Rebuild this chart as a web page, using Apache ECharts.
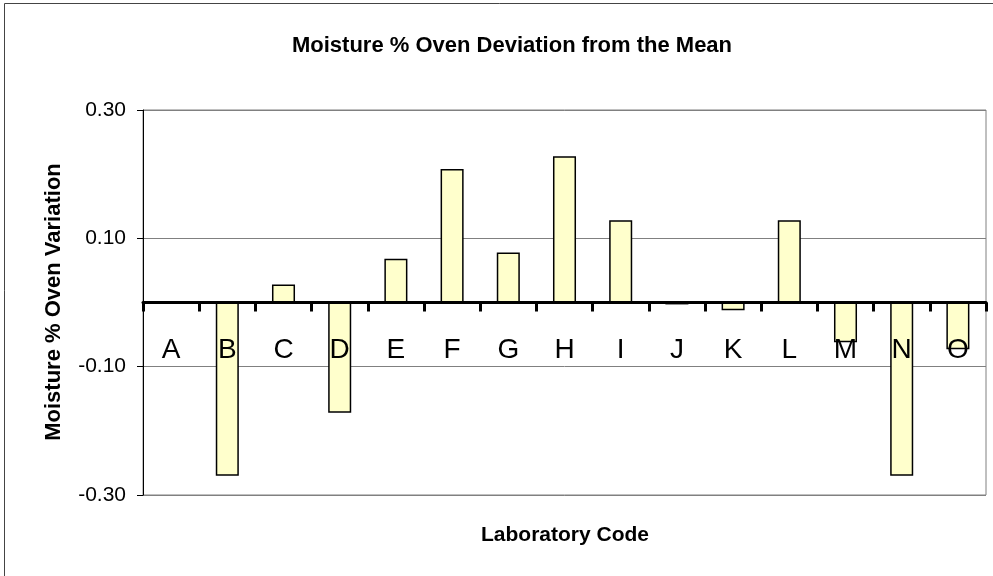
<!DOCTYPE html>
<html>
<head>
<meta charset="utf-8">
<script src="https://cdn.jsdelivr.net/npm/echarts@6/dist/echarts.min.js"></script>
<style>
html,body{margin:0;padding:0;background:#fff;}
#chart{width:993px;height:576px;}
</style>
</head>
<body>
<div id="chart"></div>
<script>
const categories = ['A','B','C','D','E','F','G','H','I','J','K','L','M','N','O'];
const deviations = [0, -0.27, 0.028, -0.172, 0.068, 0.208, 0.078, 0.228, 0.128, -0.003, -0.012, 0.128, -0.062, -0.27, -0.073];
const yTicks = [-0.3, -0.1, 0.1, 0.3];
const chartTitle = 'Moisture % Oven Deviation from the Mean';
const xTitle = 'Laboratory Code';
const yTitle = 'Moisture % Oven Variation';

const FONT = "'Liberation Sans', Arial, sans-serif";
const GRID = {left: 143, right: 7, top: 110, bottom: 81};
const plotH = 576 - GRID.top - GRID.bottom;
const zeroOffset = -plotH * 0.5; // category axis drawn along y = 0 (mid of symmetric range)

const chart = echarts.init(document.getElementById('chart'), null, {renderer: 'canvas'});
chart.setOption({
  animation: false,
  backgroundColor: '#fff',
  grid: Object.assign({show: true, borderColor: '#808080', borderWidth: 1, backgroundColor: 'transparent'}, GRID),
  graphic: [
    {type: 'rect', z: -1, shape: {x: 4.5, y: 3.5, width: 1200, height: 1000}, style: {fill: 'none', stroke: '#444', lineWidth: 1}},
    {type: 'text', x: 512, y: 46, style: {text: chartTitle, font: 'bold 22px ' + FONT, fill: '#000', align: 'center', verticalAlign: 'middle'}},
    {type: 'text', x: 565, y: 535, style: {text: xTitle, font: 'bold 21px ' + FONT, fill: '#000', align: 'center', verticalAlign: 'middle'}},
    {type: 'text', x: 54, y: 302, rotation: Math.PI / 2, style: {text: yTitle, font: 'bold 22px ' + FONT, fill: '#000', align: 'center', verticalAlign: 'middle'}}
  ],
  xAxis: {
    type: 'category',
    data: categories,
    z: 10,
    offset: zeroOffset,
    axisLine: {show: true, onZero: false, lineStyle: {color: '#000', width: 3}},
    axisTick: {show: true, length: 9, lineStyle: {color: '#000', width: 3}},
    axisLabel: {color: '#000', fontSize: 28, fontFamily: FONT, margin: 34, interval: 0},
    splitLine: {show: false}
  },
  yAxis: {
    type: 'value',
    min: -0.3, max: 0.3,
    axisLine: {show: true, lineStyle: {color: '#000', width: 1}},
    axisTick: {show: true, length: 6, customValues: yTicks, lineStyle: {color: '#000', width: 1}},
    axisLabel: {customValues: yTicks, color: '#000', fontSize: 21, fontFamily: FONT, margin: 17,
      formatter: v => Number(v).toFixed(2)},
    splitLine: {show: true, lineStyle: {color: '#808080', width: 1}}
  },
  series: [{
    type: 'bar',
    data: deviations,
    barWidth: '41%',
    itemStyle: {color: '#FFFFCC', borderColor: '#000', borderWidth: 1.5}
  }]
});
</script>
</body>
</html>
